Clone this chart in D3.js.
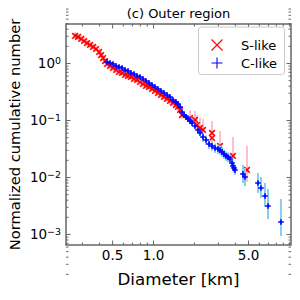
<!DOCTYPE html>
<html>
<head>
<meta charset="utf-8">
<title>Outer region</title>
<script src="https://d3js.org/d3.v7.min.js"></script>
<style>
  body { margin: 0; background: #fff; }
  text { font-family: "DejaVu Sans", sans-serif; }
</style>
</head>
<body>
<script>
// S-like (red x) : diameter [km], normalized cumulative number, error factors
var sDiam = [0.267,0.281,0.296,0.311,0.327,0.344,0.362,0.381,0.401,0.415,0.429,0.444,0.459,0.483,0.508,
  0.535,0.562,0.592,0.623,0.655,0.689,0.725,0.763,0.802,0.844,0.888,0.935,0.983,1.034,1.088,
  1.145,1.205,1.268,1.334,1.403,1.476,1.527,1.580,1.634,
  1.871,2.036,2.106,2.216,2.332,2.716,2.716,3.109,3.874,4.910];
var sNum = [2.98,2.86,2.64,2.43,2.24,2.07,1.91,1.76,1.56,1.38,1.22,1.08,0.960,0.886,0.817,
  0.754,0.695,0.668,0.616,0.592,0.568,0.524,0.503,0.464,0.428,0.395,0.379,0.350,0.323,0.298,
  0.275,0.253,0.234,0.216,0.199,0.183,0.169,0.150,0.122,
  0.108,0.100,0.0817,0.0724,0.0668,0.0592,0.0483,0.0350,0.0234,0.0133];
var sUp = [1.18,1.18,1.18,1.18,1.18,1.18,1.18,1.18,1.18,1.18,1.18,1.18,1.18,1.18,1.18,
  1.18,1.18,1.18,1.18,1.18,1.18,1.18,1.18,1.18,1.18,1.18,1.18,1.18,1.18,1.18,
  1.25,1.25,1.25,1.25,1.25,1.25,1.25,1.25,1.25,
  1.38,1.44,1.50,1.50,1.56,1.62,1.69,1.83,2.15,2.64];
var sDn = [0.88,0.88,0.88,0.88,0.88,0.88,0.88,0.88,0.88,0.88,0.88,0.88,0.88,0.88,0.88,
  0.88,0.88,0.88,0.88,0.88,0.88,0.88,0.88,0.88,0.88,0.88,0.88,0.88,0.88,0.88,
  0.86,0.86,0.86,0.86,0.86,0.86,0.86,0.86,0.86,
  0.85,0.85,0.817,0.817,0.817,0.785,0.785,0.724,0.668,0.616];

// C-like (blue +)
var cDiam = [0.459,0.483,0.508,0.535,0.562,0.592,0.623,0.655,0.689,0.725,0.763,0.802,0.844,0.888,0.935,
  0.983,1.034,1.088,1.145,1.205,1.268,1.334,1.403,1.476,1.527,1.580,1.634,1.690,1.749,1.809,
  1.871,1.935,2.036,2.142,2.216,2.332,2.454,2.581,2.716,2.857,3.006,3.109,3.216,3.327,3.441,
  3.559,3.682,3.809,3.874,3.940,4.007,
  4.589,4.747,5.913,6.222,6.663,7.013,8.73];
var cNum = [1.04,1.00,0.960,0.886,0.851,0.817,0.754,0.724,0.668,0.641,0.592,0.568,0.524,0.483,0.446,
  0.411,0.379,0.350,0.323,0.298,0.275,0.253,0.224,0.207,0.191,0.169,0.138,0.122,0.113,0.104,
  0.0960,0.0885,0.0785,0.0668,0.0592,0.0503,0.0446,0.0379,0.0350,0.0323,0.0310,0.0298,0.0275,0.0253,0.0234,
  0.0224,0.0207,0.0176,0.0156,0.0144,0.0133,
  0.0113,0.0100,0.00785,0.00641,0.00464,0.00310,0.00162];
var cUp = [1.06,1.06,1.06,1.06,1.06,1.06,1.06,1.06,1.06,1.06,1.06,1.06,1.06,1.06,1.06,
  1.06,1.06,1.06,1.06,1.06,1.06,1.06,1.06,1.06,1.06,1.12,1.12,1.12,1.12,1.12,
  1.12,1.12,1.12,1.12,1.12,1.20,1.20,1.20,1.20,1.20,1.20,1.20,1.20,1.20,1.20,
  1.20,1.20,1.20,1.20,1.20,1.20,
  1.44,1.44,1.50,1.56,1.69,1.99,2.53];
var cDn = [0.95,0.95,0.95,0.95,0.95,0.95,0.95,0.95,0.95,0.95,0.95,0.95,0.95,0.95,0.95,
  0.95,0.95,0.95,0.95,0.95,0.95,0.95,0.95,0.95,0.95,0.90,0.90,0.90,0.90,0.90,
  0.90,0.90,0.90,0.90,0.90,0.82,0.82,0.82,0.82,0.82,0.82,0.82,0.82,0.82,0.82,
  0.82,0.82,0.82,0.82,0.82,0.82,
  0.69,0.69,0.668,0.668,0.641,0.59,0.568];

// ticks
var xLabelTicks = [0.5, 1.0, 5.0];
var xMinorTicks = [0.3,0.4,0.6,0.7,0.8,0.9,2,3,4,6,7,8,9,10];
var yMajorTicks = [1, 0.1, 0.01, 0.001];
var yMinorTicks = [];
[0.0001, 0.001, 0.01, 0.1, 1].forEach(function (p) {
  for (var k = 2; k <= 9; k++) yMinorTicks.push(p * k);
});

var w = 300, h = 300;
var pL = 66, pR = 291, pT = 24, pB = 245;
var frameColor = "#666";

var svg = d3.select("body").append("svg").attr("width", w).attr("height", h);

var x = d3.scaleLog().domain([0.229, 10.35]).range([pL, pR]);
var y = d3.scaleLog().domain([0.000641, 4.83]).range([pB, pT]);

// clip so markers stay inside the frame
svg.append("clipPath").attr("id", "clip")
  .append("rect").attr("x", pL).attr("y", pT)
  .attr("width", pR - pL).attr("height", pB - pT);

var plot = svg.append("g").attr("clip-path", "url(#clip)");

function series(dia, num, up, dn) {
  return dia.map(function (d, i) {
    return { d: d, n: num[i], hi: num[i] * up[i], lo: num[i] * dn[i] };
  });
}
var sData = series(sDiam, sNum, sUp, sDn);
var cData = series(cDiam, cNum, cUp, cDn);

function errbars(data, color) {
  plot.append("g").selectAll("line").data(data).enter().append("line")
    .attr("x1", function (d) { return x(d.d); })
    .attr("x2", function (d) { return x(d.d); })
    .attr("y1", function (d) { return y(d.hi); })
    .attr("y2", function (d) { return y(d.lo); })
    .attr("stroke", color).attr("stroke-width", 2);
}

var s = 2.8;
var crossPath = "M" + (-s) + "," + (-s) + "L" + s + "," + s + "M" + (-s) + "," + s + "L" + s + "," + (-s);
var plusPath = "M" + (-s) + ",0L" + s + ",0M0," + (-s) + "L0," + s;

function markers(data, path, color) {
  plot.append("g").selectAll("path").data(data).enter().append("path")
    .attr("transform", function (d) { return "translate(" + x(d.d) + "," + y(d.n) + ")"; })
    .attr("d", path)
    .attr("fill", "none")
    .attr("stroke", color).attr("stroke-width", 1.6);
}

errbars(sData, "pink");
markers(sData, crossPath, "red");
errbars(cData, "skyblue");
markers(cData, plusPath, "blue");

// axes, ticks inward on all four sides
function styleAxis(g) {
  g.select(".domain").remove();
  g.selectAll(".tick line").attr("stroke", frameColor);
  g.selectAll("text").attr("fill", "#000").attr("font-family", "DejaVu Sans");
}

var fmt = d3.format(".1f");
svg.append("g").attr("transform", "translate(0," + pB + ")")
  .call(d3.axisBottom(x).tickValues(xLabelTicks).tickFormat(fmt).tickSize(-4.5).tickPadding(5))
  .attr("font-size", 13.5).call(styleAxis);
svg.append("g").attr("transform", "translate(0," + pB + ")")
  .call(d3.axisBottom(x).tickValues(xMinorTicks).tickFormat("").tickSize(-2.5)).call(styleAxis);
svg.append("g").attr("transform", "translate(0," + pT + ")")
  .call(d3.axisTop(x).tickValues(xLabelTicks).tickFormat("").tickSize(-4.5)).call(styleAxis);
svg.append("g").attr("transform", "translate(0," + pT + ")")
  .call(d3.axisTop(x).tickValues(xMinorTicks).tickFormat("").tickSize(-2.5)).call(styleAxis);

var yAx = svg.append("g").attr("transform", "translate(" + pL + ",0)")
  .call(d3.axisLeft(y).tickValues(yMajorTicks).tickFormat("").tickSize(-4.5).tickPadding(5))
  .attr("font-size", 13.5).call(styleAxis);
yAx.selectAll(".tick text").each(function (d) {
  var t = d3.select(this);
  var e = Math.round(Math.log10(d));
  t.append("tspan").text("10");
  t.append("tspan").attr("dy", "-0.45em").attr("font-size", "0.7em")
    .text(e < 0 ? "\u2212" + (-e) : "" + e);
});
svg.append("g").attr("transform", "translate(" + pL + ",0)")
  .call(d3.axisLeft(y).tickValues(yMinorTicks).tickFormat("").tickSize(-2.5)).call(styleAxis);
svg.append("g").attr("transform", "translate(" + pR + ",0)")
  .call(d3.axisRight(y).tickValues(yMajorTicks).tickFormat("").tickSize(-4.5)).call(styleAxis);
svg.append("g").attr("transform", "translate(" + pR + ",0)")
  .call(d3.axisRight(y).tickValues(yMinorTicks).tickFormat("").tickSize(-2.5)).call(styleAxis);

// frame
svg.append("rect")
  .attr("x", pL).attr("y", pT)
  .attr("width", pR - pL).attr("height", pB - pT)
  .attr("fill", "none").attr("stroke", frameColor).attr("stroke-width", 1.5);

// titles
svg.append("text").attr("x", (pL + pR) / 2).attr("y", 18)
  .attr("text-anchor", "middle").attr("font-size", 13).text("(c) Outer region");
svg.append("text").attr("x", (pL + pR) / 2).attr("y", 285)
  .attr("text-anchor", "middle").attr("font-size", 16.7).text("Diameter [km]");
svg.append("text")
  .attr("transform", "translate(20," + (pT + pB) / 2 + ") rotate(-90)")
  .attr("text-anchor", "middle").attr("font-size", 14.7).text("Normalized cumulative number");

// legend
var legend = svg.append("g");
legend.append("rect").attr("x", 198.5).attr("y", 27).attr("width", 86).attr("height", 47.5)
  .attr("rx", 3).attr("fill", "#fff").attr("fill-opacity", 0.8)
  .attr("stroke", "#ccc").attr("stroke-width", 1);
var ls = 5.5;
var legItems = [
  { label: "S-like", color: "red", path: "M" + (-ls) + "," + (-ls) + "L" + ls + "," + ls + "M" + (-ls) + "," + ls + "L" + ls + "," + (-ls) },
  { label: "C-like", color: "blue", path: "M" + (-ls) + ",0L" + ls + ",0M0," + (-ls) + "L0," + ls }
];
legItems.forEach(function (it, i) {
  var cy = 45 + i * 18;
  legend.append("path").attr("transform", "translate(217," + cy + ")")
    .attr("d", it.path).attr("stroke", it.color).attr("stroke-width", 1.1).attr("fill", "none");
  legend.append("text").attr("x", 241).attr("y", cy + 4.7)
    .attr("font-size", 13).text(it.label);
});
</script>
</body>
</html>
